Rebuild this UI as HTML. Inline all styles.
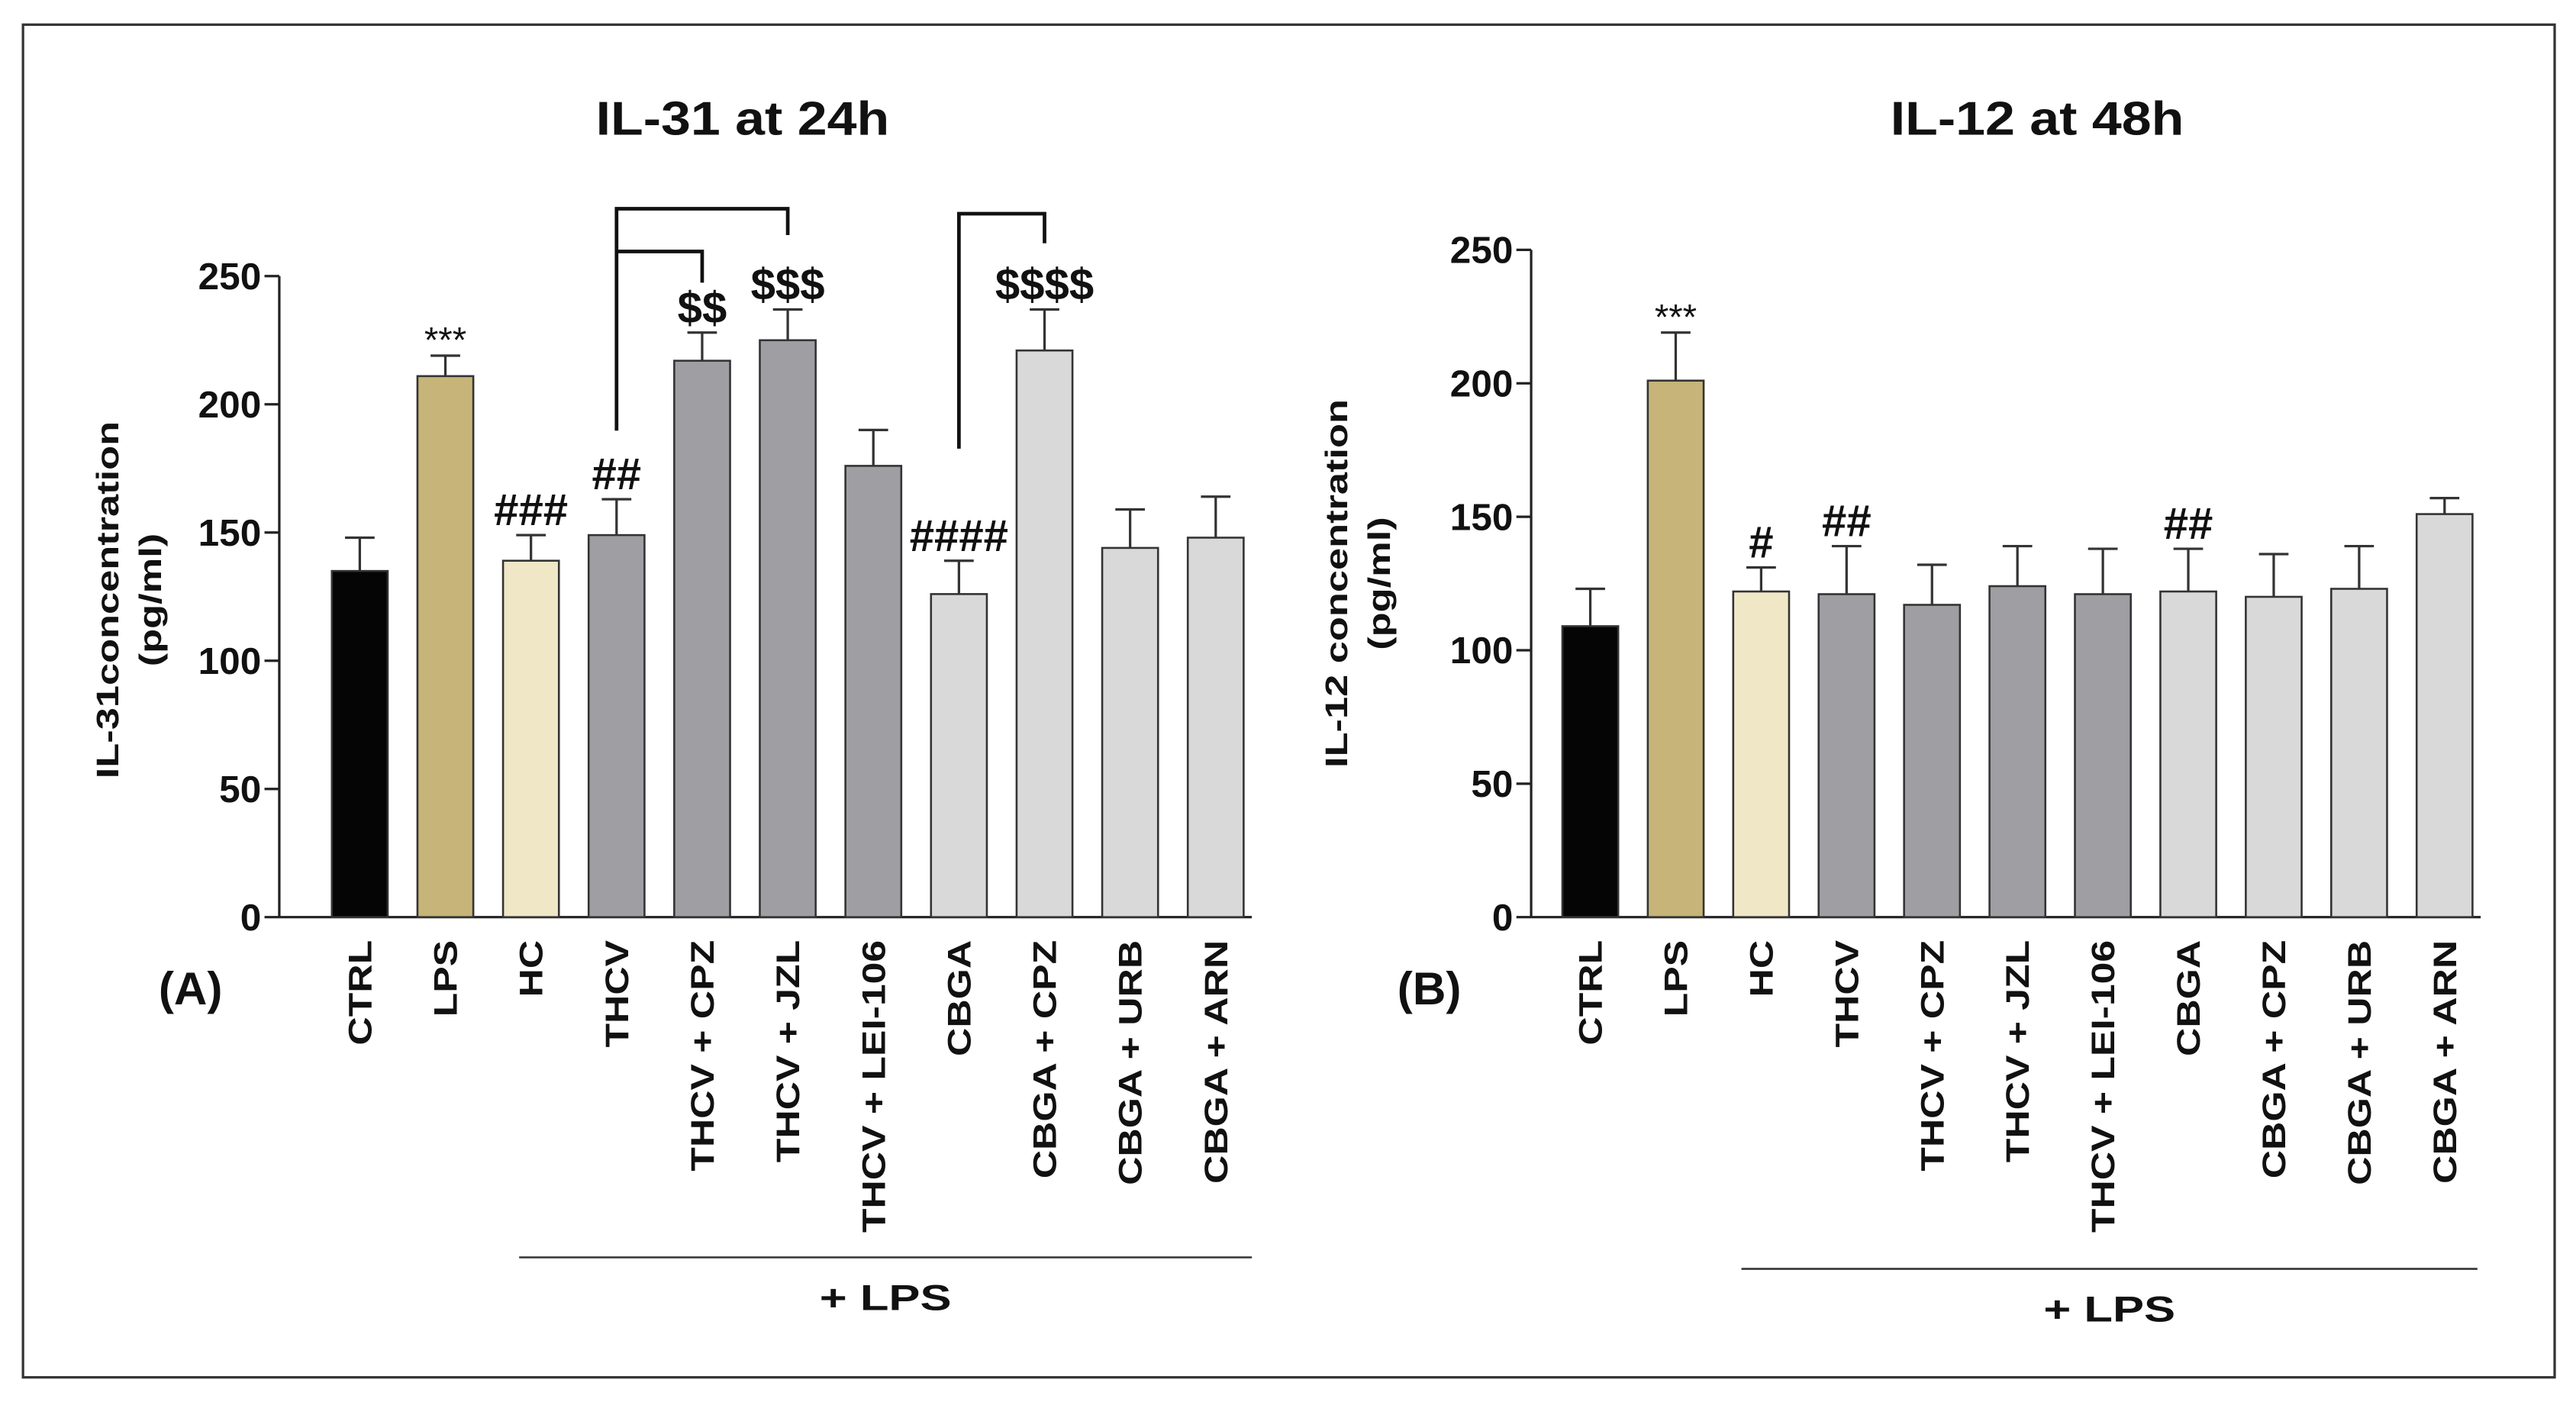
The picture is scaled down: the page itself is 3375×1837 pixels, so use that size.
<!DOCTYPE html>
<html><head><meta charset="utf-8"><style>
html,body{margin:0;padding:0;background:#fff;}
svg{display:block;font-family:"Liberation Sans",sans-serif;}
</style></head><body>
<svg id="fig" width="3375" height="1837" viewBox="0 0 1568 853" preserveAspectRatio="none" xmlns="http://www.w3.org/2000/svg">
<rect x="0" y="0" width="1568" height="853" fill="#fff"/>
<rect x="14" y="15" width="1541" height="823" fill="none" stroke="#333" stroke-width="1.5"/>
<g id="A"></g>
<g id="B"></g>
</svg>
<script>
const categories = ["CTRL","LPS","HC","THCV","THCV + CPZ","THCV + JZL","THCV + LEI-106","CBGA","CBGA + CPZ","CBGA + URB","CBGA + ARN"];
const il31Values = [135,211,139,149,217,225,176,126,221,144,148];
const il31Errors = [13,8,10,14,11,12,14,13,16,15,16];
const il31Marks = ["","***","###","##","$$","$$$","","####","$$$$","",""];
const il12Values = [109,201,122,121,117,124,121,122,120,123,151];
const il12Errors = [14,18,9,18,15,15,17,16,16,16,6];
const il12Marks = ["","***","#","##","","","","##","","",""];
const yTicks = [0,50,100,150,200,250];
const barColors = ["#050505","#c6b478","#efe7c6","#9f9ea3","#9f9ea3","#9f9ea3","#9f9ea3","#d9d9d9","#d9d9d9","#d9d9d9","#d9d9d9"];
const NS="http://www.w3.org/2000/svg";
function mk(parent,tag,attrs,text){const e=document.createElementNS(NS,tag);for(const k in attrs)e.setAttribute(k,attrs[k]);if(text!==undefined)e.textContent=text;parent.appendChild(e);return e;}

function panel(g,cfg){
  const y=v=>cfg.y0-(v/250)*(cfg.y0-cfg.y250);
  const x=i=>cfg.x0+i*cfg.step;
  let t=mk(g,"text",{transform:`translate(${cfg.titleX},82) scale(1.12,1)`,"text-anchor":"middle","font-size":29,"font-weight":"bold",fill:"#111"},cfg.title);
  
  
  let ax=mk(g,"line",{x1:cfg.ax,y1:y(250),x2:cfg.ax,y2:cfg.y0,stroke:"#222","stroke-width":1.5});
  
  
  let xa=mk(g,"line",{x1:cfg.ax,y1:cfg.y0,x2:cfg.xEnd,y2:cfg.y0,stroke:"#222","stroke-width":1.5});
  
  
  yTicks.forEach(v=>{
    mk(g,"line",{x1:cfg.ax-9,y1:y(v),x2:cfg.ax,y2:y(v),stroke:"#222","stroke-width":1.5});
    let tl=mk(g,"text",{x:cfg.ax-11,y:y(v)+8,"text-anchor":"end","font-size":23,"font-weight":"bold",fill:"#111"},String(v));
    
    
  });
  let yl=mk(g,"text",{transform:`translate(${cfg.ylx},${cfg.yly}) rotate(-90) scale(1.28,1)`,"text-anchor":"middle","font-size":19,"font-weight":"bold",fill:"#111"},cfg.ylabel);
  
  
  let yu=mk(g,"text",{transform:`translate(${cfg.ylx+26},${cfg.yly}) rotate(-90) scale(1.28,1)`,"text-anchor":"middle","font-size":19,"font-weight":"bold",fill:"#111"},"(pg/ml)");
  
  
  cfg.vals.forEach((v,i)=>{
    const cx=x(i),w=34;
    const eb=y(v+cfg.errs[i]);
    let el=mk(g,"line",{x1:cx,y1:eb,x2:cx,y2:y(v),stroke:"#333","stroke-width":1.5});
    
    
    mk(g,"line",{x1:cx-9,y1:eb,x2:cx+9,y2:eb,stroke:"#333","stroke-width":1.5});
    let r=mk(g,"rect",{x:cx-w/2,y:y(v),width:w,height:cfg.y0-y(v),fill:barColors[i],stroke:"#333","stroke-width":1.2});
    
    
    if(cfg.marks[i]){
      const star=cfg.marks[i].startsWith("*");
      let m=mk(g,"text",{x:cx,y:eb-(star?2:6),"text-anchor":"middle","font-size":star?22:27,"font-weight":star?"normal":"bold",fill:"#111"},cfg.marks[i]);
      
      
    }
    let cl=mk(g,"text",{transform:`translate(${cx+7},${cfg.y0+14}) rotate(-90) scale(1.2,1)`,"text-anchor":"end","font-size":20,"font-weight":"bold",fill:"#111"},categories[i]);
    
    
  });
  let pl=mk(g,"text",{x:cfg.plx,y:611,"text-anchor":"middle","font-size":28,"font-weight":"bold",fill:"#111"},cfg.plabel);
  
  
  let ll=mk(g,"line",{x1:cfg.lpsX1,y1:cfg.lpsY,x2:cfg.lpsX2,y2:cfg.lpsY,stroke:"#333","stroke-width":1.2});
  
  
  let lt=mk(g,"text",{transform:`translate(${(cfg.lpsX1+cfg.lpsX2)/2},${cfg.lpsY+32}) scale(1.3,1)`,"text-anchor":"middle","font-size":22,"font-weight":"bold",fill:"#111"},"+ LPS");
  
  
  return {x,y};
}
const A=document.getElementById('A');
const pa=panel(A,{title:"IL-31 at 24h",titleX:452,ax:170,y0:558,y250:168,x0:219,step:52.1,xEnd:762,vals:il31Values,errs:il31Errors,marks:il31Marks,ylabel:"IL-31concentration",ylx:72,yly:365,plabel:"(A)",plx:116,lpsX1:316,lpsX2:762,lpsY:765});
const B=document.getElementById('B');
panel(B,{title:"IL-12 at 48h",titleX:1240,ax:932,y0:558,y250:152,x0:968,step:52,xEnd:1510,vals:il12Values,errs:il12Errors,marks:il12Marks,ylabel:"IL-12 concentration",ylx:820,yly:355,plabel:"(B)",plx:870,lpsX1:1060,lpsX2:1508,lpsY:772});
function bracket(x1,yTop,y1,x2,y2,name){
  const p=mk(A,"path",{d:`M${x1},${y1} V${yTop} H${x2} V${y2}`,fill:"none",stroke:"#111","stroke-width":2.2});
  
  
}
bracket(pa.x(3),127,262,pa.x(5),143,'bracket-thcv-jzl');
bracket(pa.x(3),153,153,pa.x(4),172,'bracket-thcv-cpz');
bracket(pa.x(7),130,273,pa.x(8),148,'bracket-cbga-cpz');
</script>
</body></html>
